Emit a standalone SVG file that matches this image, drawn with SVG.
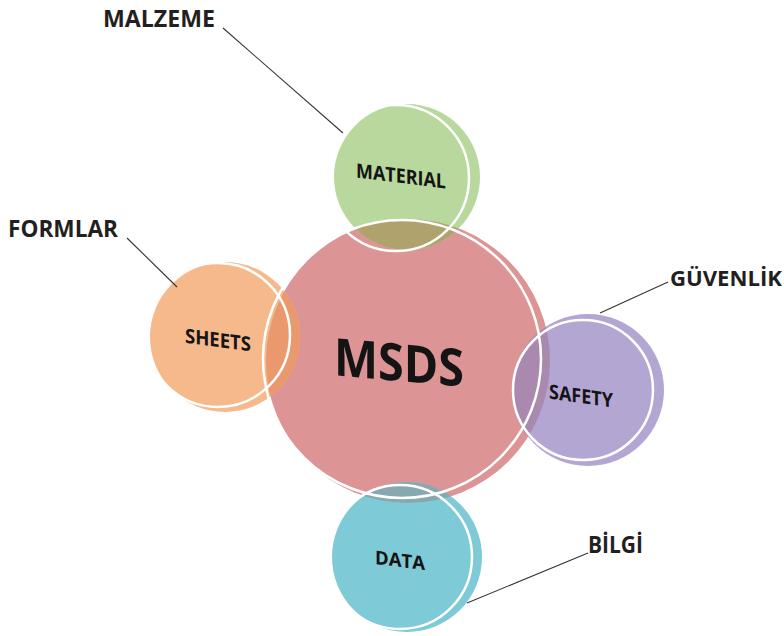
<svg xmlns="http://www.w3.org/2000/svg" width="784" height="636" viewBox="0 0 784 636">
<style>
.lbl{font-family:"Open Sans","Liberation Sans",sans-serif;font-weight:bold;fill:#231f20;}
.in{font-family:"Open Sans","Liberation Sans",sans-serif;font-weight:bold;fill:#141414;text-anchor:middle;}
.ring{fill:none;stroke:#ffffff;stroke-width:2.5;}
.lead{stroke:#333333;stroke-width:1.1;fill:none;}
</style>
<defs>
<clipPath id="cg"><circle cx="407" cy="177" r="73"/></clipPath>
<clipPath id="co"><circle cx="225" cy="337" r="75"/></clipPath>
<clipPath id="cp"><circle cx="588" cy="390" r="76"/></clipPath>
<clipPath id="cb"><circle cx="407" cy="557" r="75"/></clipPath>
</defs>
<rect width="784" height="636" fill="#ffffff"/>
<g id="msds">
<circle cx="408" cy="361" r="142" fill="#dc9494"/>
</g>
<g id="material">
<circle cx="407" cy="177" r="73" fill="#b8d89e"/>
<circle cx="408" cy="361" r="142" fill="#b0a26c" clip-path="url(#cg)"/>
</g>
<g id="sheets">
<circle cx="225" cy="337" r="75" fill="#f5b98c"/>
<circle cx="408" cy="361" r="142" fill="#e9996d" clip-path="url(#co)"/>
</g>
<g id="safety">
<circle cx="588" cy="390" r="76" fill="#b4a6d3"/>
<circle cx="408" cy="361" r="142" fill="#a98aae" clip-path="url(#cp)"/>
</g>
<g id="data">
<circle cx="407" cy="557" r="75" fill="#7ecad6"/>
<circle cx="408" cy="361" r="142" fill="#88a8b0" clip-path="url(#cb)"/>
</g>
<g id="rings">
<circle class="ring" cx="402" cy="359" r="139"/>
<circle class="ring" cx="396" cy="178" r="73"/>
<circle class="ring" cx="218" cy="335" r="72"/>
<circle class="ring" cx="583" cy="390" r="70"/>
<circle class="ring" cx="400" cy="557" r="72"/>
</g>
<g id="texts">
<text class="in" x="399" y="381" font-size="52" textLength="130" lengthAdjust="spacingAndGlyphs" transform="translate(399 362) skewY(5) translate(-399 -362)">MSDS</text>
<text class="in" x="401" y="183" font-size="20" textLength="90" lengthAdjust="spacingAndGlyphs" transform="translate(401 176) skewY(7) translate(-401 -176)">MATERIAL</text>
<text class="in" x="218" y="347" font-size="20" textLength="66" lengthAdjust="spacingAndGlyphs" transform="translate(218 340) skewY(7.5) translate(-218 -340)">SHEETS</text>
<text class="in" x="581" y="403" font-size="20" textLength="64" lengthAdjust="spacingAndGlyphs" transform="translate(581 396) skewY(8) translate(-581 -396)">SAFETY</text>
<text class="in" x="400" y="567" font-size="19" textLength="50" lengthAdjust="spacingAndGlyphs" transform="translate(400 560) skewY(7) translate(-400 -560)">DATA</text>
</g>
<g id="labels">
<text class="lbl" x="103" y="27" font-size="24" textLength="112" lengthAdjust="spacingAndGlyphs">MALZEME</text>
<text class="lbl" x="8" y="237" font-size="24" textLength="110" lengthAdjust="spacingAndGlyphs">FORMLAR</text>
<text class="lbl" x="670" y="286" font-size="22" textLength="112" lengthAdjust="spacingAndGlyphs">GÜVENLİK</text>
<text class="lbl" x="588" y="553" font-size="23" textLength="55" lengthAdjust="spacingAndGlyphs">BİLGİ</text>
</g>
<g id="connectors">
<line class="lead" x1="223" y1="28" x2="343" y2="133"/>
<line class="lead" x1="127" y1="238" x2="177" y2="287"/>
<line class="lead" x1="668" y1="282" x2="600" y2="313"/>
<line class="lead" x1="588" y1="553" x2="467" y2="603"/>
</g>
</svg>
